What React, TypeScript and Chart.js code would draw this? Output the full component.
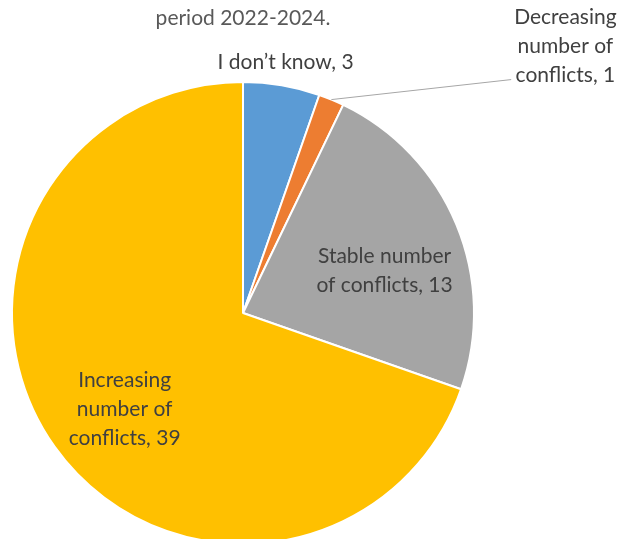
import { useEffect, useRef } from "react";
import { Chart, registerables } from "chart.js";
Chart.register(...registerables);

const categories = [
  "I don’t know",
  "Decreasing number of conflicts",
  "Stable number of conflicts",
  "Increasing number of conflicts",
];
const values = [3, 1, 13, 39];
const colors = ["#5B9BD5", "#ED7D31", "#A5A5A5", "#FFC000"];
const labelLines = [
  ["I don’t know, 3"],
  ["Decreasing", "number of", "conflicts, 1"],
  ["Stable number", "of conflicts, 13"],
  ["Increasing", "number of", "conflicts, 39"],
];
const titleText = "period 2022-2024.";

const FONT = "21px Lato";
const LINE_H = 29;
const TEXT_COLOR = "#404040";

// radial factor along slice mid-angle, small nudge, leader line for tiny slice
const placements = [
  { r: 1.1, dx: 0, dy: 0, leader: false },
  { r: 1.0, dx: 234, dy: -53, leader: true },
  { r: 0.64, dx: 5, dy: 14, leader: false },
  { r: 0.66, dx: 6, dy: 8, leader: false },
];

const labelPlugin = {
  id: "pieLabels",
  afterDatasetsDraw(chart: any) {
    const ctx = chart.ctx as CanvasRenderingContext2D;
    const meta = chart.getDatasetMeta(0);
    ctx.save();
    ctx.font = FONT;
    ctx.fillStyle = TEXT_COLOR;
    ctx.textAlign = "center";
    ctx.textBaseline = "middle";
    let cx0 = 0;
    meta.data.forEach((arc: any, i: number) => {
      const { x, y, startAngle, endAngle, outerRadius } = arc.getProps(
        ["x", "y", "startAngle", "endAngle", "outerRadius"],
        true
      );
      cx0 = x;
      const mid = (startAngle + endAngle) / 2;
      const p = placements[i];
      const bx = x + Math.cos(mid) * outerRadius * p.r;
      const by = y + Math.sin(mid) * outerRadius * p.r;
      const lx = bx + p.dx;
      const ly = by + p.dy;
      const lines = labelLines[i];
      const n = lines.length;
      lines.forEach((t, k) => {
        ctx.fillText(t, lx, ly + (k - (n - 1) / 2) * LINE_H);
      });
      if (p.leader) {
        const w = Math.max(...lines.map((t) => ctx.measureText(t).width));
        const ex = lx - w / 2 - 3;
        const ey = ly + ((n - 1) / 2) * LINE_H + 4;
        ctx.strokeStyle = "#A6A6A6";
        ctx.lineWidth = 1;
        ctx.beginPath();
        ctx.moveTo(bx, by);
        ctx.lineTo(ex, ey);
        ctx.stroke();
      }
    });
    ctx.fillStyle = "#595959";
    ctx.textBaseline = "alphabetic";
    ctx.fillText(titleText, cx0, 25);
    ctx.restore();
  },
};

export default function App() {
  const ref = useRef<HTMLCanvasElement | null>(null);
  useEffect(() => {
    if (!ref.current) return;
    const chart = new Chart(ref.current, {
      type: "pie",
      data: {
        labels: categories,
        datasets: [
          {
            data: values,
            backgroundColor: colors,
            borderColor: "#FFFFFF",
            borderWidth: 2,
          },
        ],
      },
      options: {
        responsive: false,
        animation: false,
        layout: { padding: { top: 81, bottom: 15, left: 11, right: 144 } },
        plugins: {
          legend: { display: false },
          tooltip: { enabled: false },
          title: { display: false },
        },
      },
      plugins: [labelPlugin],
    });
    return () => chart.destroy();
  }, []);
  return (
    <div
      style={{
        position: "fixed",
        left: 0,
        top: 0,
        width: 619,
        height: 539,
        overflow: "hidden",
        background: "#FFFFFF",
      }}
    >
      <canvas ref={ref} width={619} height={560} style={{ width: 619, height: 560, display: "block" }} />
    </div>
  );
}
